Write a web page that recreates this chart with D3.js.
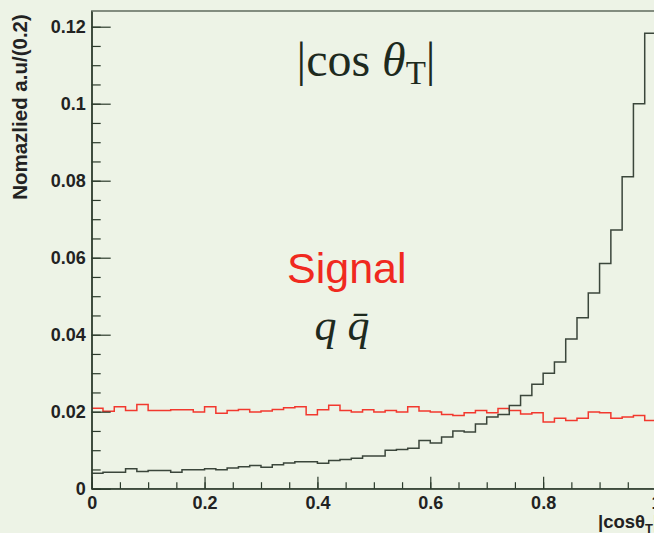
<!DOCTYPE html>
<html>
<head>
    <title></title>
    <meta charset="utf-8">
    <style>
        body { margin: 0; background: #edf3e6; }
        svg { display: block; }
    </style>
</head>
<body>
<script src="https://d3js.org/d3.v7.min.js"></script>
<script>
    // 50 bins of width 0.02 over |cos theta_T|
    var binEdges = d3.range(0, 50).map(function (i) { return i * 0.02; });
    var signal = [0.0209, 0.0201, 0.0213, 0.0203, 0.0219, 0.0203, 0.0203, 0.0205, 0.0205, 0.0199,
                  0.0213, 0.0196, 0.0203, 0.0206, 0.0199, 0.0202, 0.0206, 0.0210, 0.0213, 0.0192,
                  0.0205, 0.0217, 0.0203, 0.0199, 0.0205, 0.0199, 0.0203, 0.0199, 0.0213, 0.0202,
                  0.0199, 0.0193, 0.0190, 0.0197, 0.0203, 0.0197, 0.0208, 0.0203, 0.0194, 0.0197,
                  0.0173, 0.0183, 0.0177, 0.0183, 0.0199, 0.0197, 0.0183, 0.0186, 0.0190, 0.0177];
    var qqbar = [0.0040, 0.0043, 0.0043, 0.0052, 0.0045, 0.0047, 0.0047, 0.0043, 0.0049, 0.0049,
                 0.0052, 0.0049, 0.0054, 0.0057, 0.0060, 0.0056, 0.0062, 0.0067, 0.0070, 0.0070,
                 0.0066, 0.0073, 0.0076, 0.0079, 0.0085, 0.0085, 0.0100, 0.0102, 0.0105, 0.0125,
                 0.0119, 0.0134, 0.0150, 0.0147, 0.0168, 0.0186, 0.0193, 0.0216, 0.0242, 0.0271,
                 0.0300, 0.0329, 0.0389, 0.0444, 0.0508, 0.0585, 0.0672, 0.0810, 0.1000, 0.1183];
    var xTicks = [0, 0.2, 0.4, 0.6, 0.8, 1.0];
    var xTickLabels = ['0', '0.2', '0.4', '0.6', '0.8', '1'];
    var yTicks = [0, 0.02, 0.04, 0.06, 0.08, 0.1, 0.12];
    var yTickLabels = ['0', '0.02', '0.04', '0.06', '0.08', '0.1', '0.12'];

    var W = 654, H = 533;
    var frame = { left: 91.7, right: 656, top: 11, bottom: 488.7 };
    var ink = '#2b3a2b';

    var svg = d3.select('body').append('svg')
        .attr('width', W)
        .attr('height', H);

    svg.append('rect').attr('width', W).attr('height', H).attr('fill', '#edf3e6');

    var x = d3.scaleLinear().domain([0, 1]).range([frame.left, frame.right]);
    var y = d3.scaleLinear().domain([0, 0.124]).range([frame.bottom, frame.bottom - 0.124 * 3850]);

    // frame
    svg.append('rect')
        .attr('x', frame.left).attr('y', frame.top)
        .attr('width', frame.right - frame.left).attr('height', frame.bottom - frame.top)
        .attr('fill', 'none').attr('stroke', '#4a564a').attr('stroke-width', 1.3);

    function histPath(vals) {
        var pts = vals.map(function (v, i) { return [binEdges[i], v]; });
        pts.push([1.0, vals[vals.length - 1]]);
        return d3.line()
            .x(function (d) { return x(d[0]); })
            .y(function (d) { return y(d[1]); })
            .curve(d3.curveStepAfter)(pts);
    }

    svg.append('path').attr('d', histPath(signal))
        .attr('fill', 'none').attr('stroke', '#f2382e').attr('stroke-width', 1.5);
    svg.append('path').attr('d', histPath(qqbar))
        .attr('fill', 'none').attr('stroke', '#3b463b').attr('stroke-width', 1.5);

    // y axis: major + minor ticks pointing into the frame
    var yMinor = d3.range(0, 0.1251, 0.005).filter(function (v) { return y(v) >= frame.top; });
    svg.append('g').attr('transform', 'translate(' + frame.left + ',0)')
        .call(d3.axisLeft(y).tickValues(yMinor).tickSizeInner(-9).tickSizeOuter(0).tickFormat(''))
        .call(function (g) { g.select('.domain').remove(); });
    var yAx = svg.append('g').attr('transform', 'translate(' + frame.left + ',0)')
        .call(d3.axisLeft(y).tickValues(yTicks).tickSizeInner(-19).tickSizeOuter(0).tickPadding(6)
            .tickFormat(function (d, i) { return yTickLabels[i]; }));
    yAx.select('.domain').attr('stroke', ink).attr('stroke-width', 1.3);

    // x axis
    var xMinor = d3.range(0, 1.0001, 0.05);
    svg.append('g').attr('transform', 'translate(0,' + frame.bottom + ')')
        .call(d3.axisBottom(x).tickValues(xMinor).tickSizeInner(-6.5).tickSizeOuter(0).tickFormat(''))
        .call(function (g) { g.select('.domain').remove(); });
    var xAx = svg.append('g').attr('transform', 'translate(0,' + frame.bottom + ')')
        .call(d3.axisBottom(x).tickValues(xTicks).tickSizeInner(-12).tickSizeOuter(0).tickPadding(8)
            .tickFormat(function (d, i) { return xTickLabels[i]; }));
    xAx.select('.domain').attr('stroke', ink).attr('stroke-width', 1.3);

    svg.selectAll('.tick line').attr('stroke', ink).attr('stroke-width', 1.2);
    svg.selectAll('.tick text')
        .attr('fill', '#222')
        .attr('font-family', 'Liberation Sans, Arial, sans-serif')
        .attr('font-weight', 'bold')
        .attr('font-size', 18);

    // axis titles
    svg.append('text')
        .attr('transform', 'translate(26.5,107) rotate(-90)')
        .attr('text-anchor', 'middle')
        .attr('fill', '#222')
        .attr('font-family', 'Liberation Sans, Arial, sans-serif')
        .attr('font-weight', 'bold')
        .attr('font-size', 20.5)
        .text('Nomazlied a.u/(0.2)');

    var xt = svg.append('text')
        .attr('x', 598).attr('y', 528)
        .attr('fill', '#222')
        .attr('font-family', 'Liberation Sans, Arial, sans-serif')
        .attr('font-weight', 'bold')
        .attr('font-size', 18.5);
    xt.append('tspan').text('|cos\u03B8');
    xt.append('tspan').attr('font-size', 13).attr('dy', 5).text('T');
    xt.append('tspan').attr('dy', -5).text('|');

    // in-plot labels
    var title = svg.append('text')
        .attr('x', 366).attr('y', 76)
        .attr('text-anchor', 'middle')
        .attr('fill', '#1e2a1e')
        .attr('font-family', 'Liberation Serif, DejaVu Serif, serif')
        .attr('font-size', 48);
    title.append('tspan').text('|cos ');
    title.append('tspan').attr('font-style', 'italic').text('\u03B8');
    title.append('tspan').attr('font-size', 33).attr('dy', 8).text('T');
    title.append('tspan').attr('dy', -8).text('|');

    svg.append('text')
        .attr('x', 287).attr('y', 283)
        .attr('fill', '#f0291f')
        .attr('font-family', 'Liberation Sans, Arial, sans-serif')
        .attr('font-size', 43)
        .text('Signal');

    svg.append('text')
        .attr('x', 342).attr('y', 340)
        .attr('text-anchor', 'middle')
        .attr('fill', '#1e2a1e')
        .attr('font-family', 'Liberation Serif, DejaVu Serif, serif')
        .attr('font-style', 'italic')
        .attr('font-size', 44)
        .text('q q\u0304');
</script>
</body>
</html>
